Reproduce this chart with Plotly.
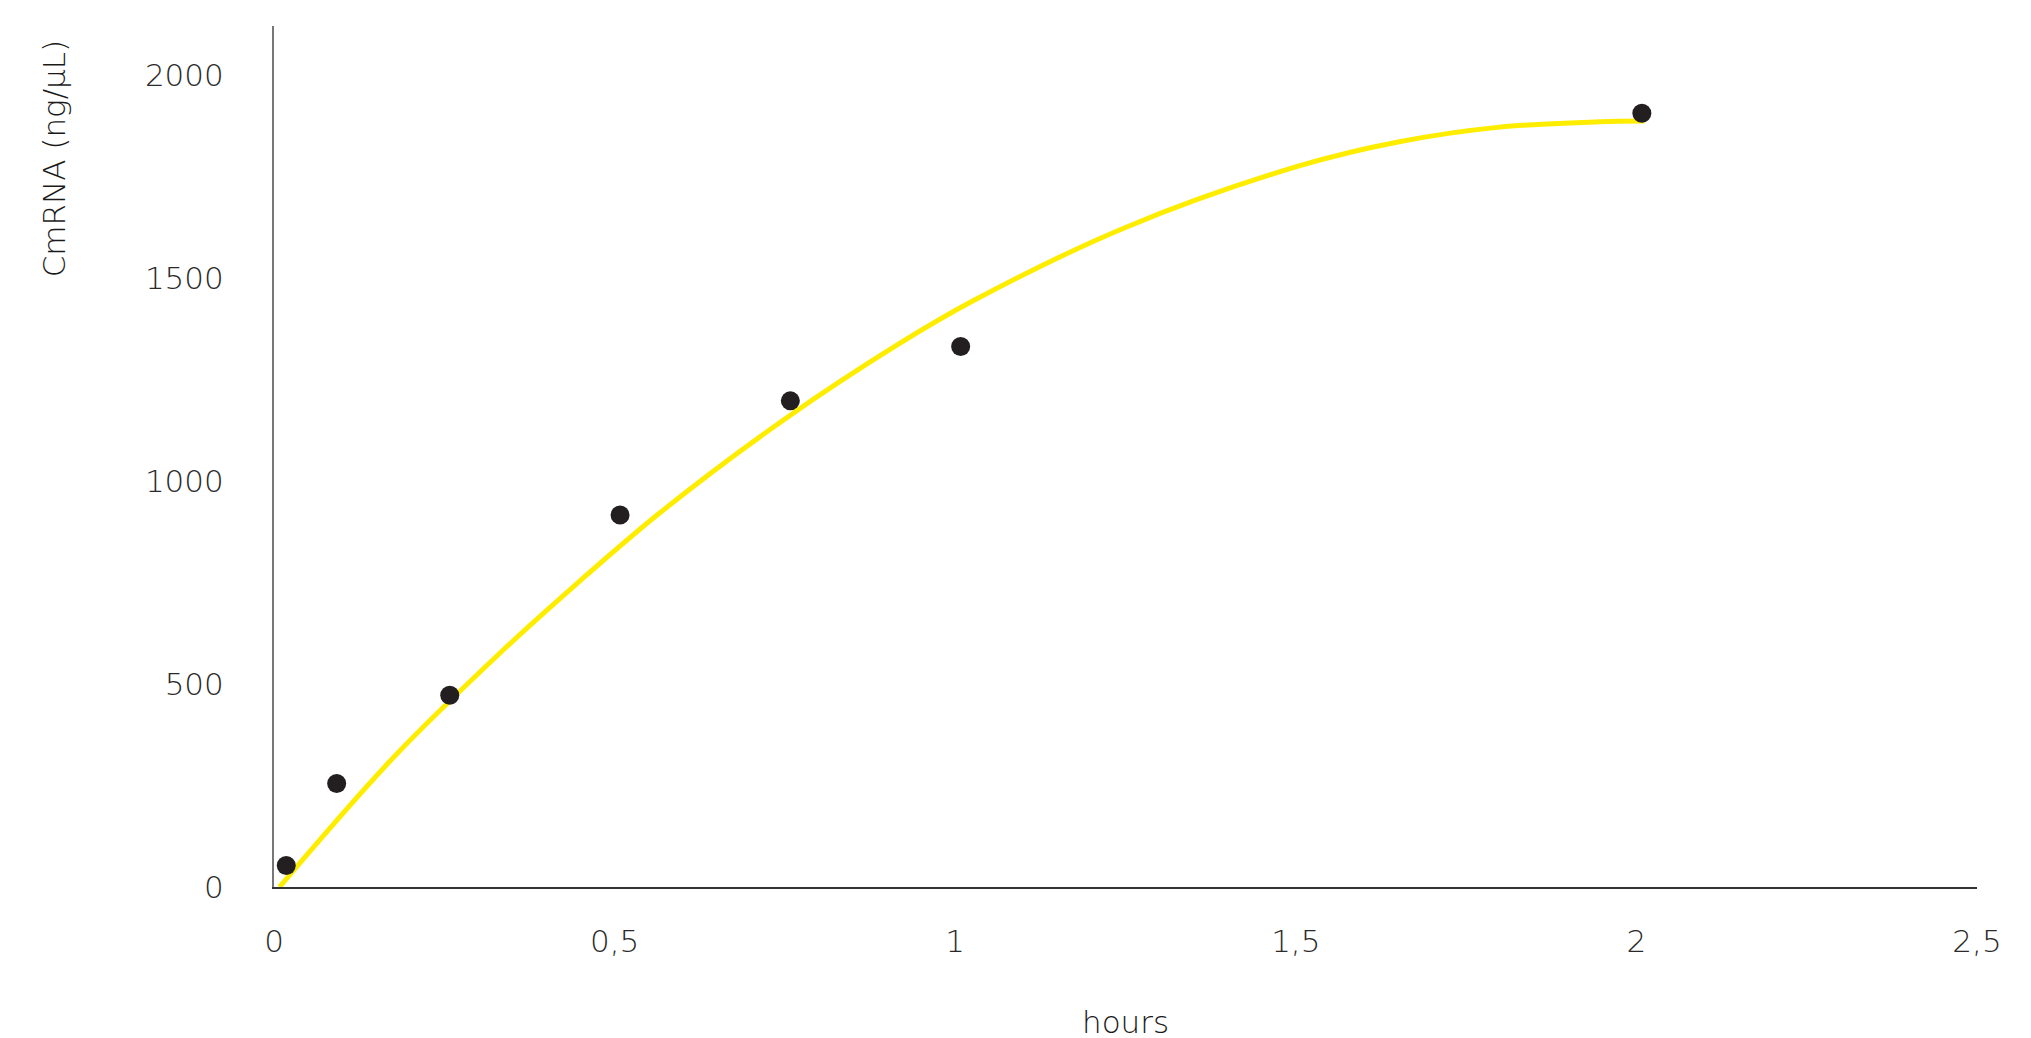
import plotly.graph_objects as go

# Measured data points (hours, CmRNA ng/µL)
hours = [0.018, 0.092, 0.258, 0.508, 0.758, 1.008, 2.008]
cmrna = [53, 255, 472, 916, 1197, 1331, 1905]

# Trend curve
curve_x = [0.008, 0.176, 0.333, 0.421, 0.567, 0.748, 0.919, 1.027, 1.25, 1.506, 1.652, 1.799, 1.946, 2.012]
curve_y = [0, 320, 578, 712, 922, 1150, 1339, 1444, 1624, 1776, 1835, 1871, 1884, 1886]

x_ticks = [0, 0.5, 1, 1.5, 2, 2.5]
x_tick_text = ["0", "0,5", "1", "1,5", "2", "2,5"]
y_ticks = [0, 500, 1000, 1500, 2000]
y_tick_text = ["0", "500", "1000", "1500", "2000"]

FONT = "'DejaVu Sans', sans-serif"
TXT = "#2a2a2a"

fig = go.Figure()
fig.add_trace(go.Scatter(
    x=curve_x, y=curve_y, mode="lines",
    line=dict(color="#FFED00", width=5, shape="spline", smoothing=1.0),
    hoverinfo="skip", showlegend=False,
))
fig.add_trace(go.Scatter(
    x=hours, y=cmrna, mode="markers",
    marker=dict(color="#231F20", size=19),
    showlegend=False,
))

fig.update_layout(
    width=2031, height=1038,
    margin=dict(l=266, r=62, t=18, b=159),
    paper_bgcolor="white", plot_bgcolor="white",
    font=dict(family=FONT, color=TXT, size=31, weight=300),
    xaxis=dict(
        range=[0, 2.5], tickvals=x_ticks, ticktext=x_tick_text,
        showgrid=False, zeroline=False, showline=True,
        linecolor="#333333", linewidth=2, ticks="",
        ticklabelstandoff=26,
        tickfont=dict(family=FONT, size=31, color=TXT, weight=300),
    ),
    yaxis=dict(
        range=[0, 2120], tickvals=y_ticks, ticktext=y_tick_text,
        showgrid=False, zeroline=False, showline=True,
        linecolor="#777777", linewidth=2, ticks="",
        ticklabelstandoff=42,
        tickfont=dict(family=FONT, size=31, color=TXT, weight=300),
    ),
    annotations=[
        dict(text="CmRNA (ng/µL)", textangle=-90, xref="paper", yref="paper",
             x=-0.129, y=1.0, xanchor="center", yanchor="top", yshift=-11,
             showarrow=False, font=dict(family=FONT, size=31, color="#1a1a1a", weight=300)),
        dict(text="hours", xref="paper", yref="paper",
             x=0.5, y=0, yshift=-135, xanchor="center", yanchor="middle",
             showarrow=False, font=dict(family=FONT, size=31, color="#1a1a1a", weight=300)),
    ],
)

fig.write_html("out.html")
